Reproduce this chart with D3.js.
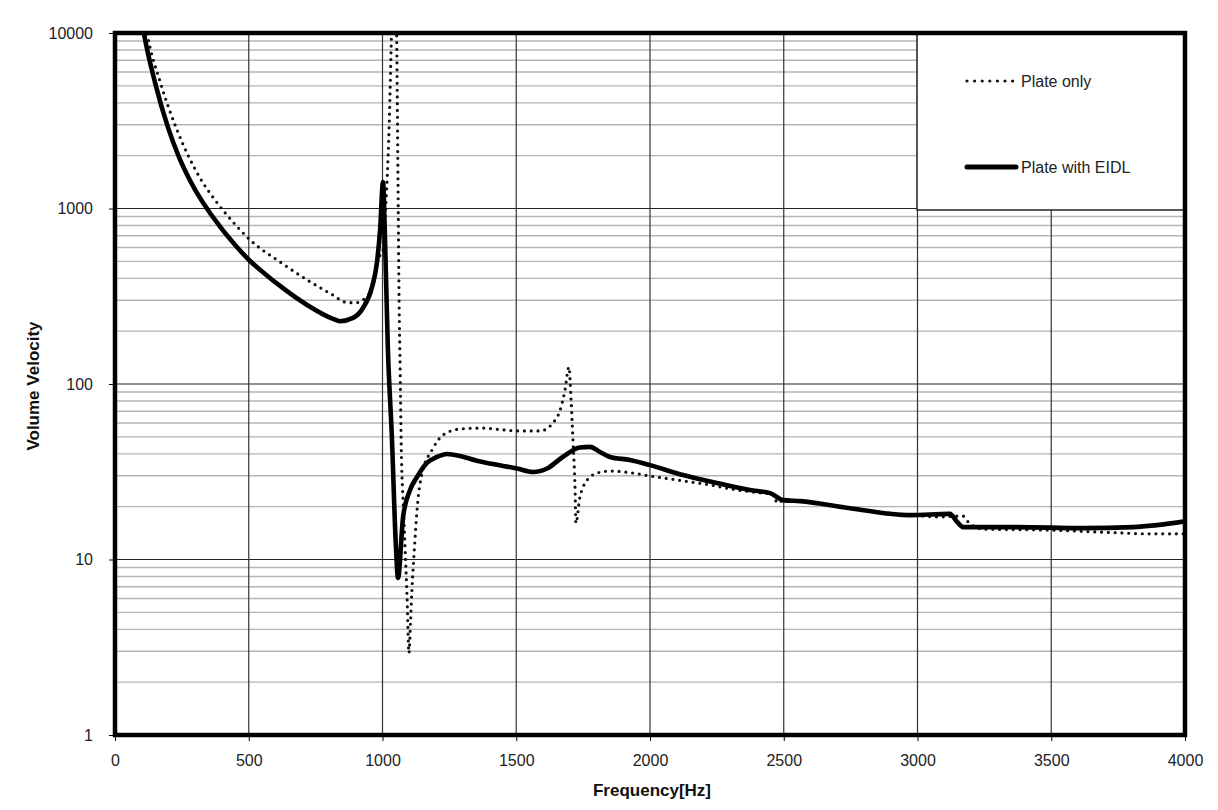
<!DOCTYPE html>
<html>
<head>
<meta charset="utf-8">
<script src="https://cdn.jsdelivr.net/npm/d3@7"></script>
<style>
  html, body { margin: 0; padding: 0; background: #ffffff; }
  svg { display: block; font-family: "Liberation Sans", Arial, sans-serif; }
</style>
</head>
<body>
<svg id="chart" width="1218" height="810"></svg>
<script>
// Frequency response: volume velocity of a plate, with and without EIDL
const xTicks = [0, 500, 1000, 1500, 2000, 2500, 3000, 3500, 4000];
const yTicks = [1, 10, 100, 1000, 10000];
const seriesNames = ["Plate only", "Plate with EIDL"];

const eidlFreq = [100, 108, 150, 198, 240, 280, 392, 449, 505, 561, 617, 718, 815, 841, 890, 927, 961, 979, 991, 1002, 1008, 1020, 1035, 1050, 1058, 1077, 1103, 1129, 1166, 1204, 1241, 1290, 1353, 1413, 1503, 1563, 1615, 1675, 1738, 1776, 1813, 1850, 1925, 2000, 2123, 2250, 2374, 2449, 2497, 2561, 2748, 2972, 3121, 3148, 3170, 3372, 3619, 3806, 4000];
const eidlVel = [11800, 10000, 5200, 2900, 1950, 1450, 790, 620, 502, 424, 362, 282, 235, 228, 238, 271, 357, 489, 754, 1416, 800, 160, 50, 12, 7.85, 17.5, 24.9, 29.5, 35.5, 38.4, 39.9, 38.9, 36.5, 35, 33, 31.5, 33, 38.5, 43.5, 43.8, 41, 38.4, 36.9, 34.5, 30.3, 27.3, 24.9, 23.9, 21.8, 21.5, 19.6, 17.9, 18.2, 16.4, 15.3, 15.3, 15.1, 15.3, 16.5];

const plateFreq = [112, 120, 170, 232, 318, 374, 441, 505, 617, 718, 815, 860, 897, 927, 953, 972, 983, 1002, 1010, 1025, 1035, 1043, 1052, 1058, 1062, 1066, 1070, 1078, 1085, 1092, 1099, 1105, 1110, 1120, 1129, 1148, 1185, 1226, 1290, 1376, 1439, 1514, 1589, 1637, 1664, 1682, 1697, 1705, 1712, 1720, 1723, 1738, 1750, 1776, 1802, 1850, 1936, 2000, 2101, 2224, 2325, 2422, 2462, 2475, 2490, 2523, 2561, 2748, 2972, 3084, 3170, 3189, 3245, 3495, 3746, 3869, 4000];
const plateVel = [11800, 10000, 5200, 2800, 1492, 1117, 838, 662, 496, 392, 321, 293, 290, 301, 334, 407, 509, 580, 900, 3000, 12000, 30000, 12000, 1400, 300, 120, 45, 20, 11, 6, 2.93, 4.5, 6.7, 12, 19.1, 31.1, 42, 51.2, 55.4, 56.1, 55, 54, 54, 60, 71, 92, 125, 81, 48, 24.8, 16.1, 22.7, 25.9, 29.5, 31.1, 31.9, 31.1, 29.9, 28.4, 26.6, 24.9, 23.9, 23.5, 21, 21.5, 21.8, 21.5, 19.6, 17.9, 17.5, 17.7, 16.4, 14.9, 14.7, 14.2, 14.0, 14.0];

const svg = d3.select("#chart");
const plotL = 115, plotR = 1185, plotT = 33, plotB = 735;

const x = d3.scaleLinear().domain([0, 4000]).range([plotL, plotR]);
const y = d3.scaleLog().domain([1, 10000]).range([plotB, plotT]);

svg.append("defs").append("clipPath").attr("id", "plotClip")
  .append("rect").attr("x", plotL).attr("y", plotT)
  .attr("width", plotR - plotL).attr("height", plotB - plotT);

// minor horizontal gridlines (2..9 within each decade)
const minor = [];
for (let d = 1; d < 10000; d *= 10) for (let k = 2; k <= 9; k++) minor.push(d * k);
svg.append("g").selectAll("line").data(minor).join("line")
  .attr("x1", plotL).attr("x2", plotR)
  .attr("y1", d => y(d)).attr("y2", d => y(d))
  .attr("stroke", "#b4b4b4").attr("stroke-width", 1.4);

// major horizontal gridlines
svg.append("g").selectAll("line").data(yTicks).join("line")
  .attr("x1", plotL).attr("x2", plotR)
  .attr("y1", d => y(d)).attr("y2", d => y(d))
  .attr("stroke", "#222").attr("stroke-width", 1.2);

// vertical gridlines
svg.append("g").selectAll("line").data(xTicks).join("line")
  .attr("x1", d => x(d)).attr("x2", d => x(d))
  .attr("y1", plotT).attr("y2", plotB)
  .attr("stroke", "#333").attr("stroke-width", 1.2);

// axes (ticks and labels)
const xAxis = d3.axisBottom(x).tickValues(xTicks).tickSize(6).tickPadding(14).tickFormat(d3.format("d"));
const yAxis = d3.axisLeft(y).tickValues(yTicks).tickSize(6).tickPadding(16).tickFormat(d3.format("d"));

const gx = svg.append("g").attr("transform", `translate(0,${plotB})`).call(xAxis);
const gy = svg.append("g").attr("transform", `translate(${plotL},0)`).call(yAxis);
[gx, gy].forEach(g => {
  g.select(".domain").remove();
  g.selectAll(".tick line").attr("stroke", "#000").attr("stroke-width", 1);
  g.selectAll(".tick text").attr("fill", "#222").style("font-size", "16px")
    .style("font-family", "'Liberation Sans', Arial, sans-serif");
});

// curves
const line = d3.line()
  .x(d => x(d[0]))
  .y(d => y(d[1]))
  .curve(d3.curveMonotoneX);

const plots = svg.append("g").attr("clip-path", "url(#plotClip)");

plots.append("path")
  .datum(plateFreq.map((f, i) => [f, plateVel[i]]))
  .attr("d", line)
  .attr("fill", "none").attr("stroke", "#111")
  .attr("stroke-width", 3.2)
  .attr("stroke-linecap", "round")
  .attr("stroke-dasharray", "0 6.8");

plots.append("path")
  .datum(eidlFreq.map((f, i) => [f, eidlVel[i]]))
  .attr("d", line)
  .attr("fill", "none").attr("stroke", "#000")
  .attr("stroke-width", 4.6)
  .attr("stroke-linejoin", "round");

// legend
const lg = svg.append("g");
lg.append("rect")
  .attr("x", 917).attr("y", plotT).attr("width", plotR - 917).attr("height", 210 - plotT)
  .attr("fill", "#fff").attr("stroke", "#222").attr("stroke-width", 1.5);

lg.append("line")
  .attr("x1", 967).attr("x2", 1013).attr("y1", 81).attr("y2", 81)
  .attr("stroke", "#111").attr("stroke-width", 3.2)
  .attr("stroke-linecap", "round").attr("stroke-dasharray", "0 7.6");
lg.append("line")
  .attr("x1", 967).attr("x2", 1016).attr("y1", 167).attr("y2", 167)
  .attr("stroke", "#000").attr("stroke-width", 5).attr("stroke-linecap", "round");

lg.selectAll("text").data(seriesNames).join("text")
  .attr("x", 1021)
  .attr("y", (d, i) => i === 0 ? 81 : 167)
  .attr("dy", "0.35em")
  .attr("fill", "#222")
  .style("font-size", "16px")
  .text(d => d);

// plot frame
svg.append("rect")
  .attr("x", plotL).attr("y", plotT).attr("width", plotR - plotL).attr("height", plotB - plotT)
  .attr("fill", "none").attr("stroke", "#000").attr("stroke-width", 4.5);

// axis titles
svg.append("text")
  .attr("x", 652).attr("y", 796)
  .attr("text-anchor", "middle")
  .attr("fill", "#111")
  .style("font-size", "17px").style("font-weight", "bold")
  .text("Frequency[Hz]");

svg.append("text")
  .attr("transform", "translate(39,386) rotate(-90)")
  .attr("text-anchor", "middle")
  .attr("fill", "#111")
  .style("font-size", "17px").style("font-weight", "bold")
  .text("Volume Velocity");
</script>
</body>
</html>
